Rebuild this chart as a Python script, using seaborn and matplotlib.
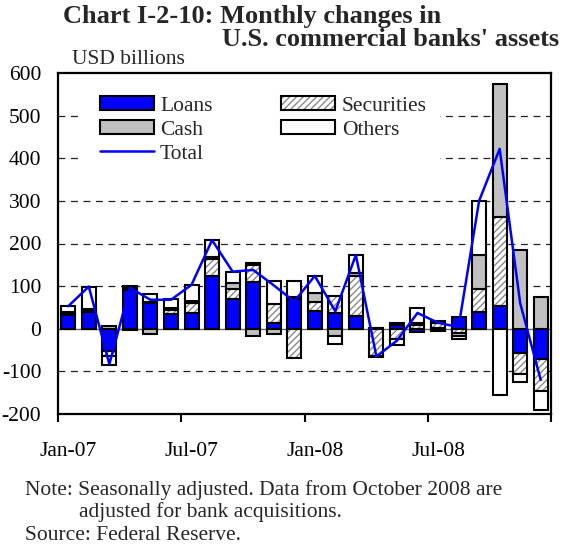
import numpy as np
import matplotlib
matplotlib.use("Agg")
import matplotlib.pyplot as plt
import matplotlib.patches as mpatches
from matplotlib.lines import Line2D
from matplotlib.legend_handler import HandlerTuple
import seaborn as sns

months = ["Jan-07", "Feb-07", "Mar-07", "Apr-07", "May-07", "Jun-07",
          "Jul-07", "Aug-07", "Sep-07", "Oct-07", "Nov-07", "Dec-07",
          "Jan-08", "Feb-08", "Mar-08", "Apr-08", "May-08", "Jun-08",
          "Jul-08", "Aug-08", "Sep-08", "Oct-08", "Nov-08", "Dec-08"]
loans = [33, 39, -52, 92, 60, 35, 36, 123, 70, 109, 14, 69,
         42, 38, 30, 2, 8, -8, 2, 28, 39, 53, -56, -70]
securities = [4, 4, -12, 4, 3, 9, 25, 40, 23, 40, 45, -68,
              20, 38, 93, -63, -25, 8, 12, -10, 54, 210, -50, -75]
cash = [3, 4, 6, 5, -13, 4, 5, 5, 15, -17, -13, 5,
        22, -17, 7, -4, 5, 6, 5, -6, 80, 311, 185, 75]
others = [13, 52, -22, -3, 18, 22, 36, 40, 26, 5, 54, 39,
          40, -18, 42, 0, -14, 35, -6, -8, 127, -155, -20, -45]
total = [53, 99, -83, 96, 68, 68, 103, 208, 134, 138, 102, 64,
         124, 41, 173, -65, -28, 37, 14, 4, 300, 422, 60, -120]
tick_labels = ["Jan-07", "Jul-07", "Jan-08", "Jul-08"]
tick_label_idx = [0, 6, 12, 18]

sns.set_theme(style="white")
plt.rcParams["font.family"] = ["Liberation Serif", "DejaVu Serif"]
plt.rcParams["hatch.linewidth"] = 1.0

W, H = 566, 550
fig = plt.figure(figsize=(W / 100, H / 100), dpi=100)
ax = fig.add_axes([58 / W, 1 - 414 / H, (551 - 58) / W, (414 - 73) / H])

x = np.arange(len(months))
width = 0.68
pos_b = np.zeros(len(x))
neg_b = np.zeros(len(x))
edge_lw = 1.5
hatch_col = "#8a8a8a"
for name, vals in [("Loans", loans), ("Securities", securities),
                   ("Cash", cash), ("Others", others)]:
    v = np.array(vals, dtype=float)
    bottoms = np.where(v >= 0, pos_b, neg_b)
    if name == "Securities":
        ax.bar(x, v, width, bottom=bottoms, facecolor="white",
               edgecolor=hatch_col, hatch="/////", linewidth=0, zorder=2)
        ax.bar(x, v, width, bottom=bottoms, fill=False,
               edgecolor="black", linewidth=edge_lw, zorder=3)
    else:
        fc = {"Loans": "#0000FF", "Cash": "#C0C0C0", "Others": "white"}[name]
        ax.bar(x, v, width, bottom=bottoms, facecolor=fc,
               edgecolor="black", linewidth=edge_lw, zorder=3)
    pos_b += np.where(v >= 0, v, 0)
    neg_b += np.where(v < 0, v, 0)

sns.lineplot(x=x, y=total, color="#0000FF", linewidth=1.8, ax=ax, zorder=4)

# grid lines
for gy in [-100, 100, 200, 300, 400, 500]:
    ax.axhline(gy, color="#222222", linestyle=(0, (5.5, 4.5)), linewidth=0.9, zorder=1)
ax.axhline(0, color="#666666", linewidth=1.0, zorder=1)

# white box behind legend
ax.add_patch(mpatches.Rectangle((82 / W, 1 - 170 / H), (440 - 82) / W, (170 - 84) / H,
                                transform=fig.transFigure, facecolor="white",
                                edgecolor="none", zorder=1.5))

ax.set_xlim(-0.5, len(x) - 0.5)
ax.set_ylim(-200, 600)
ax.set_yticks(range(-200, 601, 100))
ax.set_yticklabels([str(v) for v in range(-200, 601, 100)])
ax.tick_params(axis="y", length=0, pad=12, labelsize=15.5, colors="black")

ax.set_xticks([-0.5, 5.5, 11.5, 17.5, 23.5])
ax.set_xticklabels([])
ax.set_xticks(tick_label_idx, minor=True)
ax.set_xticklabels(tick_labels, minor=True)
ax.tick_params(axis="x", which="major", length=6, width=1.5, direction="out",
               color="black", bottom=True)
ax.tick_params(axis="x", which="minor", length=0, pad=20, labelsize=15.5,
               colors="black", bottom=True)
ax.set_xlabel("")
ax.set_ylabel("")
for sp in ax.spines.values():
    sp.set_color("black")
    sp.set_linewidth(1.6)

# legend
h_loans = mpatches.Patch(facecolor="#0000FF", edgecolor="black", linewidth=edge_lw)
h_sec = (mpatches.Patch(facecolor="white", edgecolor=hatch_col, hatch="/////", linewidth=0),
         mpatches.Patch(fill=False, edgecolor="black", linewidth=edge_lw))
h_cash = mpatches.Patch(facecolor="#C0C0C0", edgecolor="black", linewidth=edge_lw)
h_oth = mpatches.Patch(facecolor="white", edgecolor="black", linewidth=edge_lw)
h_tot = Line2D([], [], color="#0000FF", linewidth=1.8)
leg = ax.legend([h_loans, h_cash, h_tot, h_sec, h_oth],
                ["Loans", "Cash", "Total", "Securities", "Others"],
                ncol=2, loc="upper left", bbox_to_anchor=(89 / W, 1 - 85 / H),
                bbox_transform=fig.transFigure, frameon=False, fontsize=15.5,
                handlelength=2.5, handleheight=0.65, handletextpad=0.3,
                labelspacing=0.2, columnspacing=3.2, borderpad=0,
                handler_map={tuple: HandlerTuple(ndivide=1)})
leg.set_zorder(5)

# titles and notes
fig.text(63 / W, 1 - 17 / H, "Chart I-2-10: Monthly changes in", fontsize=19,
         weight="bold", ha="left", va="center")
fig.text(559 / W, 1 - 40 / H, "U.S. commercial banks' assets", fontsize=19,
         weight="bold", ha="right", va="center")
fig.text(72 / W, 1 - 60 / H, "USD billions", fontsize=15.5, ha="left", va="center")
fig.text(25 / W, 1 - 490 / H, "Note: Seasonally adjusted. Data from October 2008 are",
         fontsize=15.5, ha="left", va="center")
fig.text(79 / W, 1 - 512 / H, "adjusted for bank acquisitions.", fontsize=15.5,
         ha="left", va="center")
fig.text(25 / W, 1 - 536 / H, "Source: Federal Reserve.", fontsize=15.5,
         ha="left", va="center")

fig.savefig("out.png", dpi=100, facecolor="white")
